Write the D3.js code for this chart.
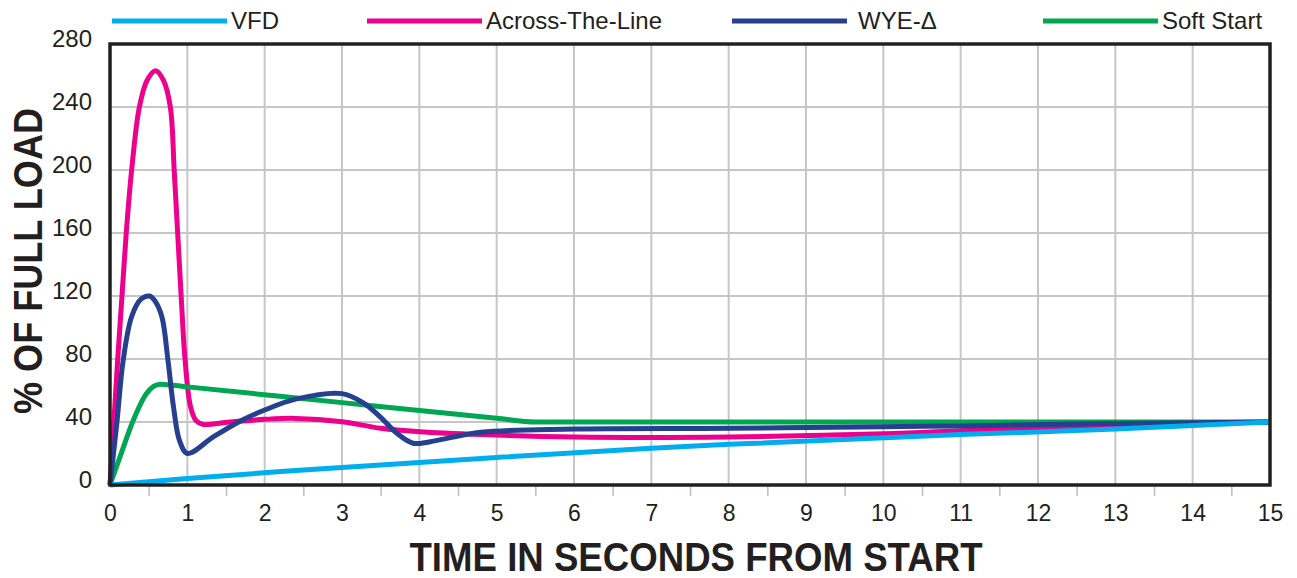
<!DOCTYPE html>
<html>
<head>
<meta charset="utf-8">
<script src="https://cdn.jsdelivr.net/npm/d3@7.9.0/dist/d3.min.js"></script>
<style>
  html, body { margin: 0; padding: 0; background: #fff; }
  svg { display: block; font-family: "Liberation Sans", Arial, Helvetica, sans-serif; }
</style>
</head>
<body>
<svg id="chart" width="1297" height="578"></svg>
<script>
// tick labels
const xTicks = [0, 1, 2, 3, 4, 5, 6, 7, 8, 9, 10, 11, 12, 13, 14, 15];
const yTicks = [0, 40, 80, 120, 160, 200, 240, 280];
const halfTicks = [0.5, 1.5, 2.5, 3.5, 4.5, 5.5, 6.5, 7.5, 8.5, 9.5, 10.5, 11.5, 12.5, 13.5, 14.5];

// series: [seconds, % of full load]
const vfd = [[0, 0], [1, 4.2], [2.5, 9.5], [5, 17.5], [7, 23.3], [8, 25.8], [11, 32], [13, 35.5], [15, 40]];
const acrossTheLine = [[0, 0], [0.05, 40], [0.1, 80], [0.155, 120], [0.21, 160], [0.28, 200], [0.38, 240],
  [0.48, 257], [0.59, 263], [0.69, 257], [0.78, 240], [0.83, 200], [0.875, 160], [0.92, 120], [0.97, 80],
  [1.04, 50], [1.11, 41], [1.2, 38.5], [1.55, 40], [2, 41.7], [2.4, 42.3], [3, 40.2], [3.5, 36], [4, 33.8],
  [4.8, 32], [6, 30.5], [8, 30.5], [10, 32.5], [11, 34.5], [12, 36.5], [13, 38], [14, 39.2], [15, 40]];
const wyeDelta = [[0, 0], [0.09, 40], [0.17, 79], [0.28, 107], [0.4, 118], [0.51, 120], [0.58, 117],
  [0.67, 107], [0.75, 79], [0.82, 50], [0.9, 28], [1.0, 20], [1.34, 30.7], [1.7, 41], [2, 47.6],
  [2.4, 54.5], [3, 58], [3.28, 52], [3.49, 43.4], [3.71, 32.8], [3.92, 26.5], [4.14, 27.5], [4.8, 33.5],
  [6, 35.5], [8, 36], [10, 37], [11, 37.5], [13, 39], [15, 40]];
const softStart = [[0, 0], [0.13, 18], [0.3, 41], [0.47, 58], [0.65, 64], [1, 62.3], [3, 52.3],
  [5, 42.4], [5.5, 40], [15, 40]];

const seriesNames = ["VFD", "Across-The-Line", "WYE-\u0394", "Soft Start"];
const seriesColors = ["#00aeef", "#ec008c", "#263f8f", "#00a651"];
const seriesData = [vfd, acrossTheLine, wyeDelta, softStart];
const seriesCurves = [d3.curveMonotoneX, d3.curveCatmullRom.alpha(0.5), d3.curveCatmullRom.alpha(0.5), d3.curveMonotoneX];

const svg = d3.select("#chart");
const plotLeft = 110, plotTop = 44, plotRight = 1270, plotBottom = 485;

const x = d3.scaleLinear().domain([0, 15]).range([plotLeft, plotRight]);
const y = d3.scaleLinear().domain([0, 280]).range([plotBottom, plotTop]);

// grid
svg.append("g")
  .selectAll("line")
  .data(xTicks.slice(1, -1))
  .join("line")
  .attr("x1", d => x(d)).attr("x2", d => x(d))
  .attr("y1", plotTop).attr("y2", plotBottom)
  .attr("stroke", "#c6c6c6").attr("stroke-width", 2);
svg.append("g")
  .selectAll("line")
  .data(yTicks.slice(1, -1))
  .join("line")
  .attr("x1", plotLeft).attr("x2", plotRight)
  .attr("y1", d => y(d)).attr("y2", d => y(d))
  .attr("stroke", "#c6c6c6").attr("stroke-width", 2);

// half-second ticks under the axis
svg.append("g")
  .attr("transform", `translate(0,${plotBottom})`)
  .call(d3.axisBottom(x).tickValues(halfTicks).tickSize(11).tickFormat(""))
  .call(g => g.select(".domain").remove())
  .call(g => g.selectAll("line").attr("stroke", "#bdbdbd").attr("stroke-width", 1.5));

// x labels
svg.append("g")
  .attr("transform", `translate(0,${plotBottom})`)
  .call(d3.axisBottom(x).tickValues(xTicks).tickSize(0).tickPadding(20).tickFormat(d3.format("d")))
  .call(g => g.select(".domain").remove())
  .call(g => g.selectAll("text").attr("font-size", 23).attr("fill", "#231f20")
    .attr("font-family", "Liberation Sans, Arial, sans-serif"));

// y labels
svg.append("g")
  .attr("transform", `translate(${plotLeft},0)`)
  .call(d3.axisLeft(y).tickValues(yTicks).tickSize(0).tickPadding(18).tickFormat(d3.format("d")))
  .call(g => g.select(".domain").remove())
  .call(g => g.selectAll("text").attr("font-size", 24).attr("fill", "#231f20").attr("dy", "0.1em")
    .attr("font-family", "Liberation Sans, Arial, sans-serif"));

// lines
const drawOrder = [1, 3, 2, 0];
drawOrder.forEach(i => {
  const line = d3.line()
    .x(d => x(d[0]))
    .y(d => y(d[1]))
    .curve(seriesCurves[i]);
  svg.append("path")
    .attr("d", line(seriesData[i]))
    .attr("fill", "none")
    .attr("stroke", seriesColors[i])
    .attr("stroke-width", 5)
    .attr("stroke-linejoin", "round");
});

// frame
svg.append("rect")
  .attr("x", plotLeft).attr("y", plotTop)
  .attr("width", plotRight - plotLeft).attr("height", plotBottom - plotTop)
  .attr("fill", "none").attr("stroke", "#231f20").attr("stroke-width", 3.5);

// legend
const legendX = [112, 367, 732, 1043];
const legend = svg.append("g");
seriesNames.forEach((name, i) => {
  legend.append("line")
    .attr("x1", legendX[i]).attr("x2", legendX[i] + 115)
    .attr("y1", 21).attr("y2", 21)
    .attr("stroke", seriesColors[i]).attr("stroke-width", 5);
  legend.append("text")
    .attr("x", legendX[i] + 119 + (i === 2 ? 7 : 0)).attr("y", 29)
    .attr("font-size", 24).attr("fill", "#231f20")
    .text(name);
});

// axis titles
svg.append("text")
  .attr("x", 696).attr("y", 571)
  .attr("text-anchor", "middle")
  .attr("font-size", 40).attr("font-weight", "bold").attr("fill", "#231f20")
  .attr("textLength", 573).attr("lengthAdjust", "spacingAndGlyphs")
  .text("TIME IN SECONDS FROM START");

svg.append("text")
  .attr("transform", "translate(42,261) rotate(-90)")
  .attr("text-anchor", "middle")
  .attr("font-size", 40).attr("font-weight", "bold").attr("fill", "#231f20")
  .attr("textLength", 306).attr("lengthAdjust", "spacingAndGlyphs")
  .text("% OF FULL LOAD");
</script>
</body>
</html>
